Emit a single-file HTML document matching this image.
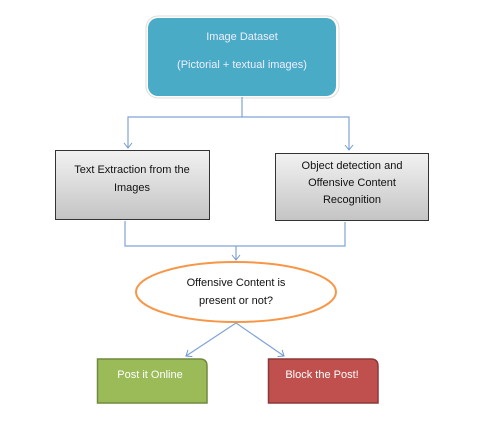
<!DOCTYPE html>
<html><head><style>html,body{margin:0;padding:0;background:#fff;}svg{display:block}</style></head>
<body>
<svg width="480" height="441" viewBox="0 0 480 441" xmlns="http://www.w3.org/2000/svg" font-family="'Liberation Sans', sans-serif" font-size="11">
<defs>
<linearGradient id="g" x1="0" y1="0" x2="0" y2="1"><stop offset="0" stop-color="#f2f2f2"/><stop offset="1" stop-color="#c4c4c4"/></linearGradient>
<marker id="a" markerWidth="10" markerHeight="10" refX="8" refY="5" orient="auto" markerUnits="userSpaceOnUse"><path d="M3,1 L8,5 L3,9" fill="none" stroke="#6f98cf" stroke-width="1"/></marker>
</defs>
<rect x="146" y="16" width="193" height="82" rx="12" fill="#fff" stroke="#ddd" stroke-width="1"/>
<rect x="148" y="18" width="188" height="78" rx="10" fill="#4aabc6"/>
<text x="242" y="40" text-anchor="middle" fill="#eef">Image Dataset</text>
<text x="242" y="68" text-anchor="middle" fill="#eef">(Pictorial + textual images)</text>
<g stroke="#7fa3d6" stroke-width="1.2" fill="none">
<path d="M242,97 V117 H128 V148" marker-end="url(#a)"/>
<path d="M242,117 H349 V150" marker-end="url(#a)"/>
<path d="M125,221 V246 H345 V222"/>
<path d="M236,246 V260" marker-end="url(#a)"/>
<path d="M236,323 L186,356" marker-end="url(#a)"/>
<path d="M236,323 L284,356" marker-end="url(#a)"/>
</g>
<rect x="55.5" y="150.5" width="154" height="69" fill="url(#g)" stroke="#333" stroke-width="1"/>
<text x="132" y="173" text-anchor="middle" fill="#111">Text Extraction from the</text>
<text x="132" y="191" text-anchor="middle" fill="#111">Images</text>
<rect x="275.5" y="153.5" width="153" height="67" fill="url(#g)" stroke="#333" stroke-width="1"/>
<text x="352" y="169" text-anchor="middle" fill="#111">Object detection  and</text>
<text x="352" y="186" text-anchor="middle" fill="#111">Offensive Content</text>
<text x="352" y="203" text-anchor="middle" fill="#111">Recognition</text>
<ellipse cx="236" cy="292" rx="100" ry="30" fill="#fff" stroke="#f79646" stroke-width="2"/>
<text x="236" y="286" text-anchor="middle" fill="#111">Offensive Content  is</text>
<text x="236" y="304" text-anchor="middle" fill="#111">present or not?</text>
<path d="M97.5,359 H200 Q207,359 207,366 V403 H97.5 Z" fill="#9bbb59" stroke="#71893f" stroke-width="1.5"/>
<text x="150" y="378" text-anchor="middle" fill="#fff">Post it Online</text>
<path d="M268.5,359 H371 Q378,359 378,366 V403 H268.5 Z" fill="#c0504d" stroke="#8c3836" stroke-width="1.5"/>
<text x="322" y="378" text-anchor="middle" fill="#fff">Block the Post!</text>
</svg>
</body></html>
